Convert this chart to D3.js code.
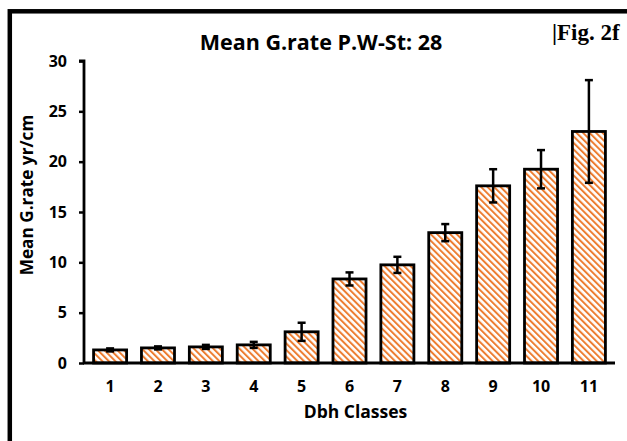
<!DOCTYPE html>
<html><head><meta charset="utf-8">
<script src="https://cdn.jsdelivr.net/npm/d3@7"></script>
<style>body{margin:0;background:#fff}svg{display:block}</style>
</head><body>
<svg id="c" width="627" height="441"></svg>
<script>
const categories = ["1","2","3","4","5","6","7","8","9","10","11"];
const means = [1.3, 1.5, 1.6, 1.8, 3.1, 8.35, 9.75, 12.95, 17.6, 19.25, 23.0];
const errors = [0.15, 0.15, 0.2, 0.3, 0.9, 0.65, 0.8, 0.85, 1.65, 1.9, 5.1];
const yTicks = [0, 5, 10, 15, 20, 25, 30];
const titleText = "Mean G.rate P.W-St: 28";
const figLabel = "|Fig. 2f";
const xTitle = "Dbh Classes";
const yTitle = "Mean G.rate yr/cm";

(function () {
const svg = d3.select("#c");
const left = 84, right = 615, topY = 61, bottomY = 363;
const font = "'Open Sans', sans-serif";

// frame
svg.append("rect").attr("x", 9.8).attr("y", 11.3).attr("width", 660).attr("height", 480)
  .attr("fill", "none").attr("stroke", "#000").attr("stroke-width", 4.5);

const defs = svg.append("defs");
const pat = defs.append("pattern").attr("id", "hatch").attr("patternUnits", "userSpaceOnUse")
  .attr("width", 4.6).attr("height", 4.6).attr("patternTransform", "rotate(-45)");
pat.append("rect").attr("width", 4.6).attr("height", 4.6).attr("fill", "#fff");
pat.append("rect").attr("x", 0).attr("width", 2).attr("height", 4.6).attr("fill", "#ED7D31");

const x = d3.scaleBand().domain(categories).range([left, right]).paddingInner(0.31).paddingOuter(0.2);
const y = d3.scaleLinear().domain([0, 30]).range([bottomY, topY]);

// bars
svg.append("g").selectAll("rect").data(categories).join("rect")
  .attr("x", d => x(d)).attr("width", x.bandwidth())
  .attr("y", (d, i) => y(means[i])).attr("height", (d, i) => y(0) - y(means[i]))
  .attr("fill", "url(#hatch)").attr("stroke", "#000").attr("stroke-width", 2.8);

// error bars
const eg = svg.append("g").attr("stroke", "#000").attr("stroke-width", 2.5);
categories.forEach((c, i) => {
  const cx = x(c) + x.bandwidth() / 2;
  eg.append("line").attr("x1", cx).attr("x2", cx).attr("y1", y(means[i] + errors[i])).attr("y2", y(means[i] - errors[i]));
  [means[i] + errors[i], means[i] - errors[i]].forEach(v => {
    eg.append("line").attr("x1", cx - 4).attr("x2", cx + 4).attr("y1", y(v)).attr("y2", y(v));
  });
});

// y axis
const ya = svg.append("g").attr("transform", `translate(${left},0)`)
  .call(d3.axisLeft(y).tickValues(yTicks).tickSize(5).tickPadding(12));
ya.select(".domain").attr("stroke-width", 2.8).attr("d", `M-5,${y(30)}H0V${y(0)}`);
ya.selectAll(".tick line").attr("stroke-width", 2.5);
ya.selectAll("text").attr("font-family", font).attr("font-weight", "bold").attr("font-size", 16).attr("fill", "#000");

// x axis
const xa = svg.append("g").attr("transform", `translate(0,${bottomY})`)
  .call(d3.axisBottom(x).tickSize(0).tickPadding(18));
xa.select(".domain").attr("stroke-width", 2.8).attr("d", `M${left - 1},0H${right}`);
xa.selectAll("text").attr("font-family", font).attr("font-weight", "bold").attr("font-size", 16).attr("fill", "#000");

svg.append("text").attr("x", 321).attr("y", 50).attr("text-anchor", "middle")
  .attr("font-family", font).attr("font-weight", "bold").attr("font-size", 21.5).text(titleText);
svg.append("text").attr("x", 552).attr("y", 40)
  .attr("font-family", "'Liberation Serif', serif").attr("font-weight", "bold").attr("font-size", 23).text(figLabel);
svg.append("text").attr("x", 355.5).attr("y", 418).attr("text-anchor", "middle")
  .attr("font-family", font).attr("font-weight", "bold").attr("font-size", 17.5).text(xTitle);
svg.append("text").attr("transform", "translate(33,195) rotate(-90)").attr("text-anchor", "middle")
  .attr("font-family", font).attr("font-weight", "bold").attr("font-size", 17.2).text(yTitle);
})();
</script>
</body></html>
